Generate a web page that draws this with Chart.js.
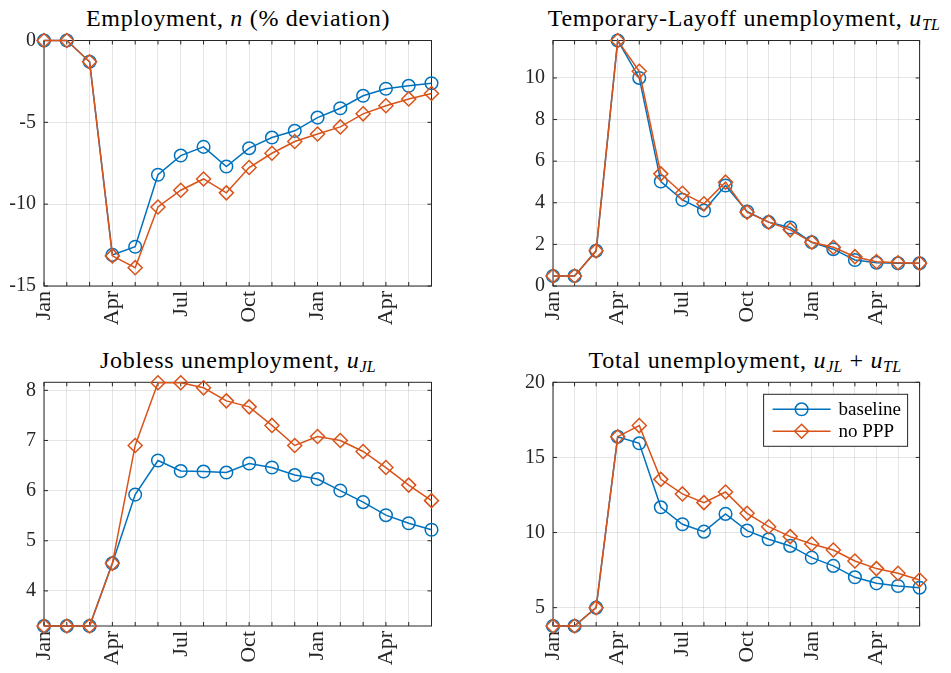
<!DOCTYPE html>
<html>
<head>
<meta charset="utf-8">
<script src="https://cdn.jsdelivr.net/npm/chart.js@4.4.1/dist/chart.umd.min.js"></script>
<style>
  body { margin: 0; background: #fff; }
  #fig { position: relative; width: 951px; height: 673px; overflow: hidden; }
  canvas { position: absolute; }
  .ttl {
    position: absolute; white-space: nowrap; transform: translateX(-50%);
    font-family: 'Liberation Serif', serif; font-size: 24px; line-height: 24px;
    letter-spacing: 0.7px; color: #000;
  }
  .ttl sub { font-size: 16px; line-height: 0; font-style: italic; vertical-align: -4px; letter-spacing: 0.3px; }
</style>
</head>
<body>
<div id="fig">
  <div class="ttl" style="left:238px; top:6px">Employment, <i>n</i> (% deviation)</div>
  <div class="ttl" style="left:744px; top:6px">Temporary-Layoff unemployment, <i>u</i><sub>TL</sub></div>
  <div class="ttl" style="left:238px; top:348px">Jobless unemployment, <i>u</i><sub>JL</sub></div>
  <div class="ttl" style="left:745px; top:348px">Total unemployment, <i>u</i><sub>JL</sub> + <i>u</i><sub>TL</sub></div>
  <canvas id="emp" width="475" height="330" style="left:0; top:0"></canvas>
  <canvas id="tl" width="476" height="330" style="left:475px; top:0"></canvas>
  <canvas id="jl" width="475" height="343" style="left:0; top:330px"></canvas>
  <canvas id="tot" width="476" height="343" style="left:475px; top:330px"></canvas>
</div>
<script>
// months on the x axis, labels shown every quarter
const months = ['Jan', 'Feb', 'Mar', 'Apr', 'May', 'Jun', 'Jul', 'Aug', 'Sep',
                'Oct', 'Nov', 'Dec', 'Jan', 'Feb', 'Mar', 'Apr', 'May', 'Jun'];

// employment, % deviation
const empBase  = [0, 0, -1.3, -13.1, -12.6, -8.2, -7.03, -6.5, -7.7, -6.58, -5.93, -5.52, -4.71, -4.14, -3.38, -2.95, -2.77, -2.61];
const empNoPPP = [0, 0, -1.3, -13.16, -13.88, -10.17, -9.15, -8.46, -9.31, -7.76, -6.89, -6.17, -5.71, -5.28, -4.48, -3.99, -3.57, -3.24];

// temporary-layoff unemployment
const tlBase  = [0.48, 0.48, 1.69, 11.8, 10.0, 5.02, 4.14, 3.63, 4.83, 3.58, 3.07, 2.81, 2.10, 1.77, 1.25, 1.12, 1.09, 1.09];
const tlNoPPP = [0.48, 0.48, 1.69, 11.8, 10.32, 5.39, 4.46, 3.95, 4.99, 3.55, 3.07, 2.70, 2.10, 1.86, 1.41, 1.17, 1.12, 1.09];

// jobless unemployment
const jlBase  = [3.3, 3.3, 3.3, 4.55, 5.92, 6.60, 6.39, 6.38, 6.36, 6.54, 6.46, 6.31, 6.23, 6.00, 5.77, 5.51, 5.35, 5.22];
const jlNoPPP = [3.3, 3.3, 3.3, 4.55, 6.90, 8.15, 8.15, 8.05, 7.79, 7.67, 7.30, 6.90, 7.08, 7.00, 6.78, 6.46, 6.11, 5.80];

// total unemployment
const totBase  = [3.78, 3.78, 5.0, 16.38, 15.94, 11.68, 10.55, 10.06, 11.24, 10.13, 9.55, 9.11, 8.33, 7.78, 7.02, 6.62, 6.44, 6.33];
const totNoPPP = [3.78, 3.78, 5.0, 16.38, 17.12, 13.54, 12.57, 11.99, 12.70, 11.28, 10.39, 9.73, 9.24, 8.84, 8.11, 7.60, 7.29, 6.84];

// y-axis limits and ticks
const empRange = [-15, 0],    empTicks = [-15, -10, -5, 0];
const tlRange  = [0, 11.8],   tlTicks  = [0, 2, 4, 6, 8, 10];
const jlRange  = [3.3, 8.16], jlTicks  = [4, 5, 6, 7, 8];
const totRange = [3.78, 20],  totTicks = [5, 10, 15, 20];

const blue = '#0072BD';
const orange = '#D95319';
const axisColor = '#262626';
const gridColor = 'rgba(38,38,38,0.12)';

Chart.defaults.font.family = '"Liberation Serif", serif';
Chart.defaults.font.size = 20;
Chart.defaults.color = axisColor;

// matlab style box with inward ticks on all four sides
const frame = {
  id: 'frame',
  beforeDatasetsDraw(chart) {
    const { ctx, chartArea: a, scales: { x, y } } = chart;
    const len = 4;
    ctx.save();
    ctx.strokeStyle = axisColor;
    ctx.lineWidth = 1;
    ctx.beginPath();
    x.ticks.forEach((t, i) => {
      const px = x.getPixelForTick(i);
      ctx.moveTo(px, a.bottom); ctx.lineTo(px, a.bottom - len);
      ctx.moveTo(px, a.top); ctx.lineTo(px, a.top + len);
    });
    y.ticks.forEach((t, i) => {
      const py = y.getPixelForTick(i);
      ctx.moveTo(a.left, py); ctx.lineTo(a.left + len, py);
      ctx.moveTo(a.right, py); ctx.lineTo(a.right - len, py);
    });
    ctx.stroke();
    ctx.strokeRect(a.left, a.top, a.width, a.height);
    ctx.restore();
  }
};

// legend box inside the top right corner
const boxLegend = {
  id: 'boxLegend',
  afterDraw(chart) {
    const { ctx, chartArea: a } = chart;
    const w = 144, h = 52;
    const left = a.right - 12 - w, top = a.top + 12;
    ctx.save();
    ctx.fillStyle = '#fff';
    ctx.fillRect(left, top, w, h);
    ctx.strokeStyle = axisColor;
    ctx.lineWidth = 1;
    ctx.strokeRect(left, top, w, h);
    chart.data.datasets.forEach((ds, i) => {
      const cy = top + 15 + i * 22;
      ctx.strokeStyle = ds.borderColor;
      ctx.lineWidth = ds.borderWidth;
      ctx.beginPath();
      ctx.moveTo(left + 9, cy);
      ctx.lineTo(left + 67, cy);
      ctx.stroke();
      ctx.fillStyle = 'rgba(0,0,0,0)';
      Chart.helpers.drawPoint(ctx, { pointStyle: ds.pointStyle, radius: ds.pointRadius, borderWidth: ds.borderWidth }, left + 38, cy);
      ctx.fillStyle = '#000';
      ctx.font = '19px "Liberation Serif", serif';
      ctx.textBaseline = 'middle';
      ctx.textAlign = 'left';
      ctx.fillText(ds.label, left + 75, cy + 1);
    });
    ctx.restore();
  }
};

function makePanel(id, base, noPPP, range, yTicks, area, legend) {
  const canvas = document.getElementById(id);
  const W = canvas.width, H = canvas.height;
  new Chart(canvas, {
    type: 'line',
    data: {
      labels: months,
      datasets: [{
        label: 'baseline',
        data: base,
        borderColor: blue,
        borderWidth: 1.5,
        pointStyle: 'circle',
        pointRadius: 6.3,
        pointBorderColor: blue,
        pointBackgroundColor: 'rgba(0,0,0,0)',
        pointBorderWidth: 1.5,
        tension: 0,
        clip: false,
        order: 1
      }, {
        label: 'no PPP',
        data: noPPP,
        borderColor: orange,
        borderWidth: 1.5,
        pointStyle: 'rectRot',
        pointRadius: 7,
        pointBorderColor: orange,
        pointBackgroundColor: 'rgba(0,0,0,0)',
        pointBorderWidth: 1.5,
        tension: 0,
        clip: false,
        order: 0
      }]
    },
    options: {
      responsive: false,
      animation: false,
      events: [],
      layout: { padding: { left: 0, top: area.top, right: W - area.right, bottom: 0 } },
      plugins: { legend: { display: false }, tooltip: { enabled: false } },
      scales: {
        x: {
          type: 'category',
          offset: false,
          border: { display: false },
          grid: { color: gridColor, drawTicks: false },
          ticks: {
            autoSkip: false,
            minRotation: 90,
            maxRotation: 90,
            padding: 5,
            font: { size: 22 },
            callback: (v, i) => (i % 3 === 0 ? months[i] : '')
          },
          afterFit: (s) => { s.height = H - area.bottom; }
        },
        y: {
          min: range[0],
          max: range[1],
          border: { display: false },
          grid: { color: gridColor, drawTicks: false },
          ticks: { padding: 8 },
          afterBuildTicks: (s) => { s.ticks = yTicks.map(v => ({ value: v })); },
          afterFit: (s) => { s.width = area.left; }
        }
      }
    },
    plugins: legend ? [frame, boxLegend] : [frame]
  });
}

makePanel('emp', empBase, empNoPPP, empRange, empTicks, { left: 44, right: 431.5, top: 40.5, bottom: 286 });
makePanel('tl', tlBase, tlNoPPP, tlRange, tlTicks, { left: 78, right: 462.3, top: 40.5, bottom: 286 });
makePanel('jl', jlBase, jlNoPPP, jlRange, jlTicks, { left: 44, right: 431.5, top: 52.3, bottom: 296 });
makePanel('tot', totBase, totNoPPP, totRange, totTicks, { left: 78, right: 462.3, top: 52.3, bottom: 296 }, true);
</script>
</body>
</html>
